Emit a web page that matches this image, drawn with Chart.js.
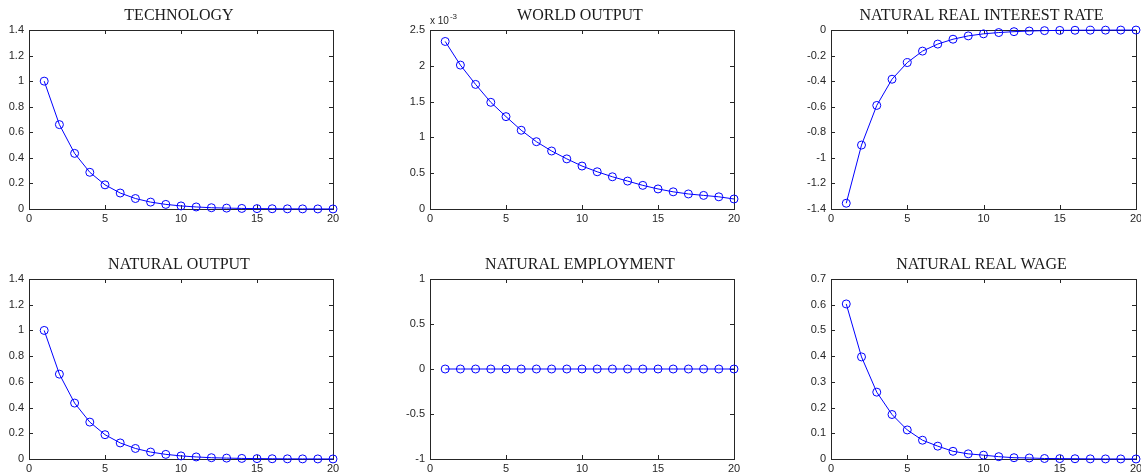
<!DOCTYPE html>
<html>
<head>
<meta charset="utf-8">
<script src="https://cdn.jsdelivr.net/npm/chart.js@4"></script>
<style>
  html, body { margin: 0; padding: 0; background: #fff; overflow: hidden; }
  #wrap { position: relative; width: 1141px; height: 475px; overflow: hidden; }
  canvas { position: absolute; }
</style>
</head>
<body>
<div id="wrap"></div>
<script>
// Impulse responses to a technology shock — six panels, MATLAB style

const periods = [1, 2, 3, 4, 5, 6, 7, 8, 9, 10, 11, 12, 13, 14, 15, 16, 17, 18, 19, 20];

const technology    = [1.0, 0.66, 0.435, 0.287, 0.189, 0.125, 0.082, 0.054, 0.036, 0.024,
                       0.016, 0.010, 0.007, 0.0045, 0.003, 0.002, 0.0013, 0.0009, 0.0006, 0.0004];
const worldOutput   = [0.00234, 0.00201, 0.00174, 0.00149, 0.00129, 0.00110, 0.00094, 0.00081, 0.00070, 0.00060,
                       0.00052, 0.00045, 0.00039, 0.00033, 0.00028, 0.00024, 0.00021, 0.00019, 0.00017, 0.00014];
const naturalRate   = [-1.355, -0.90, -0.59, -0.385, -0.255, -0.165, -0.11, -0.072, -0.046, -0.03,
                       -0.02, -0.013, -0.008, -0.005, -0.003, -0.002, -0.0015, -0.001, -0.0006, -0.0004];
const naturalOutput = [1.0, 0.66, 0.435, 0.287, 0.189, 0.125, 0.082, 0.054, 0.036, 0.024,
                       0.016, 0.010, 0.007, 0.0045, 0.003, 0.002, 0.0013, 0.0009, 0.0006, 0.0004];
const naturalEmpl   = [0, 0, 0, 0, 0, 0, 0, 0, 0, 0, 0, 0, 0, 0, 0, 0, 0, 0, 0, 0];
const naturalWage   = [0.603, 0.397, 0.26, 0.173, 0.113, 0.073, 0.05, 0.03, 0.02, 0.015,
                       0.009, 0.005, 0.004, 0.002, 0.0015, 0.001, 0.0005, 0.0003, 0.0002, 0.0001];

const xTicks = { min: 0, max: 20, step: 5 };

const panels = [
  { title: "TECHNOLOGY",               data: technology,    yMin: 0,      yMax: 1.4,    yStep: 0.2,    box: [29, 333, 30, 209] },
  { title: "WORLD OUTPUT",             data: worldOutput,   yMin: 0,      yMax: 0.0025, yStep: 0.0005, box: [430, 734, 30, 209], scale: 1e-3 },
  { title: "NATURAL REAL INTEREST RATE", data: naturalRate, yMin: -1.4,   yMax: 0,      yStep: 0.2,    box: [831, 1136, 30, 209] },
  { title: "NATURAL OUTPUT",           data: naturalOutput, yMin: 0,      yMax: 1.4,    yStep: 0.2,    box: [29, 333, 279, 459] },
  { title: "NATURAL EMPLOYMENT",       data: naturalEmpl,   yMin: -1,     yMax: 1,      yStep: 0.5,    box: [430, 734, 279, 459] },
  { title: "NATURAL REAL WAGE",        data: naturalWage,   yMin: 0,      yMax: 0.7,    yStep: 0.1,    box: [831, 1136, 279, 459] },
];

const PAD_L = 60, PAD_R = 12, PAD_T = 30, PAD_B = 20;
const AXIS = "#262626";
const BLUE = "#0000ff";
const fmt = v => String(parseFloat(v.toFixed(4)));

// box, inward tick marks, title, exponent label
const matlabFrame = {
  id: "matlabFrame",
  beforeDatasetsDraw(chart) {
    const { ctx, chartArea: a, scales } = chart;
    ctx.save();
    ctx.strokeStyle = AXIS;
    ctx.lineWidth = 1;
    ctx.strokeRect(a.left + 0.5, a.top + 0.5, a.right - a.left, a.bottom - a.top);
    ctx.beginPath();
    for (const t of scales.x.ticks) {
      const px = Math.round(scales.x.getPixelForValue(t.value)) + 0.5;
      ctx.moveTo(px, a.bottom); ctx.lineTo(px, a.bottom - 4);
      ctx.moveTo(px, a.top);    ctx.lineTo(px, a.top + 4);
    }
    for (const t of scales.y.ticks) {
      const py = Math.round(scales.y.getPixelForValue(t.value)) + 0.5;
      ctx.moveTo(a.left, py);  ctx.lineTo(a.left + 4, py);
      ctx.moveTo(a.right, py); ctx.lineTo(a.right - 4, py);
    }
    ctx.stroke();
    ctx.restore();
  },
  afterDraw(chart, args, opts) {
    const { ctx, chartArea: a } = chart;
    ctx.save();
    ctx.fillStyle = "#1a1a1a";
    ctx.font = "16px 'Liberation Serif', 'DejaVu Serif', serif";
    ctx.textAlign = "center";
    ctx.textBaseline = "alphabetic";
    ctx.fillText(opts.title, (a.left + a.right) / 2 - 2, a.top - 10);
    if (opts.exponent) {
      ctx.fillStyle = AXIS;
      ctx.textAlign = "left";
      ctx.font = "10px 'Liberation Sans', Arial, sans-serif";
      ctx.fillText("x 10", a.left, a.top - 6);
      const w = ctx.measureText("x 10").width;
      ctx.font = "8px 'Liberation Sans', Arial, sans-serif";
      ctx.fillText(opts.exponent, a.left + w + 1, a.top - 11);
    }
    ctx.restore();
  },
};

const wrap = document.getElementById("wrap");

for (const p of panels) {
  const [L, R, T, B] = p.box;
  const cv = document.createElement("canvas");
  const w = (R - L) + PAD_L + PAD_R;
  const h = (B - T) + PAD_T + PAD_B;
  cv.width = w; cv.height = h;
  cv.style.left = (L - PAD_L) + "px";
  cv.style.top = (T - PAD_T) + "px";
  cv.style.width = w + "px"; cv.style.height = h + "px";
  wrap.appendChild(cv);

  const yFmt = p.scale ? v => fmt(v / p.scale) : fmt;

  new Chart(cv, {
    type: "line",
    data: {
      datasets: [{
        data: periods.map((x, i) => ({ x, y: p.data[i] })),
        borderColor: BLUE,
        borderWidth: 1,
        pointRadius: 4,
        pointBorderWidth: 1,
        pointBorderColor: BLUE,
        pointBackgroundColor: "rgba(0,0,0,0)",
        tension: 0,
        clip: false,
      }],
    },
    options: {
      responsive: false,
      devicePixelRatio: 1,
      animation: false,
      layout: { padding: { left: 0, right: PAD_R, top: PAD_T, bottom: 0 } },
      plugins: {
        legend: { display: false },
        tooltip: { enabled: false },
        matlabFrame: { title: p.title, exponent: p.scale ? "-3" : null },
      },
      scales: {
        x: {
          type: "linear",
          min: xTicks.min, max: xTicks.max,
          grid: { display: false, drawTicks: false },
          border: { display: false },
          ticks: { stepSize: xTicks.step, padding: 3, color: AXIS, maxRotation: 0,
                   font: { family: "'Liberation Sans', Arial, sans-serif", size: 11 },
                   callback: v => fmt(v) },
          afterFit: s => { s.height = PAD_B; },
        },
        y: {
          min: p.yMin, max: p.yMax,
          grid: { display: false, drawTicks: false },
          border: { display: false },
          ticks: { stepSize: p.yStep, padding: 5, color: AXIS,
                   font: { family: "'Liberation Sans', Arial, sans-serif", size: 11 },
                   callback: v => yFmt(v) },
          afterFit: s => { s.width = PAD_L; },
        },
      },
    },
    plugins: [matlabFrame],
  });
}
</script>
</body>
</html>
